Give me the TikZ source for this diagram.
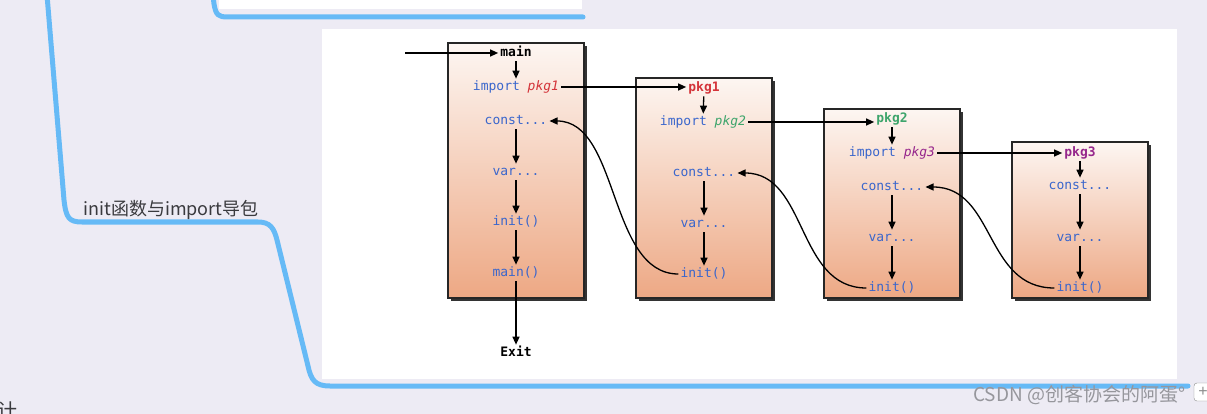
\documentclass[tikz,border=0pt]{standalone}
\usepackage{fontspec}
\setmainfont{Liberation Sans}
\newfontfamily\cjkfont{Noto Sans CJK SC}
\newfontfamily\codefont{DejaVu Sans Mono}
\usetikzlibrary{arrows.meta,shadows}

\definecolor{bgcol}{RGB}{237,235,244}
\definecolor{mapblue}{RGB}{102,186,246}
\definecolor{maptext}{RGB}{58,58,62}
\definecolor{kwblue}{RGB}{58,102,204}
\definecolor{pkgred}{RGB}{212,52,58}
\definecolor{pkggreen}{RGB}{62,165,108}
\definecolor{pkgpurple}{RGB}{150,38,140}
\definecolor{boxtop}{RGB}{253,246,242}
\definecolor{boxbot}{RGB}{237,168,132}
\definecolor{marktext}{RGB}{150,150,156}

\tikzset{
  pkgbox/.style={draw=black!85, line width=1.5pt, top color=boxtop, bottom color=boxbot,
    minimum width=136pt, inner sep=0pt,
    drop shadow={shadow xshift=3pt, shadow yshift=-3pt, fill=black!80, opacity=1}},
  code/.style={font=\codefont\fontsize{13}{15}\selectfont, text=kwblue, inner sep=2pt,
    text height=9.5pt, text depth=2.8pt},
  arr/.style={-{Triangle[length=8pt,width=7pt]}, line width=1.3pt},
  branch/.style={mapblue, line width=5pt, line cap=round},
}

\begin{document}
\begin{tikzpicture}[x=1pt, y=-1pt]

    % Mind map background
    \fill[bgcol] (0,0) rectangle (1207,414);
    \useasboundingbox (0,0) rectangle (1207,414);
    \fill[white] (219,-2) rectangle (582,9);
    \fill[white] (322,29) rectangle (1177,379);

    % Branches
    \draw[branch] (213,-5) -- (214,4) .. controls (216,15) and (218,17) .. (228,17) -- (583,17);
    \draw[branch] (47,-5) -- (64,200) .. controls (66,218) and (69,222) .. (82,222)
        -- (258,222) .. controls (270,222) and (274,228) .. (277,240)
        -- (308,366) .. controls (311,380) and (315,386) .. (330,386) -- (1188,386);

    \node[font=\cjkfont\fontsize{18}{22}\selectfont, text=maptext, anchor=base west]
        (topic) at (80,215) {init函数与import导包};
    \node[font=\cjkfont\fontsize{19}{22}\selectfont, text=marktext, anchor=base west, inner sep=0pt]
        (mark) at (973,401) {CSDN @创客协会的阿蛋°};
    \node[draw=black!45, fill=white, rounded corners=3pt, minimum size=18pt, inner sep=0pt,
        font=\fontsize{16}{16}\selectfont, text=black!45] (plus) at (1203,392) {+};
    \node[font=\cjkfont\fontsize{20}{22}\selectfont, text=maptext, anchor=north west, inner sep=0pt]
        (cut) at (-3,402) {计};

    % Boxes
    \node[pkgbox, minimum height=255pt] (mainbox) at (516,170.5) {};
    \node[pkgbox, minimum height=220pt] (box1) at (704,188) {};
    \node[pkgbox, minimum height=189pt] (box2) at (892,203.5) {};
    \node[pkgbox, minimum height=156pt] (box3) at (1080,220) {};

    % main
    \node[code, text=black, font=\codefont\bfseries\fontsize{13}{15}\selectfont] (mname) at (516,53) {main};
    \node[code] (mimp) at (516,87) {import \textcolor{pkgred}{\itshape pkg1}};
    \node[code] (mconst) at (516,121) {const...};
    \node[code] (mvar) at (516,172) {var...};
    \node[code] (minit) at (516,222) {init()};
    \node[code] (mmain) at (516,273) {main()};
    \node[code, text=black, font=\codefont\bfseries\fontsize{13}{15}\selectfont] (exit) at (516,353) {Exit};

    % pkg1
    \node[code, text=pkgred, font=\codefont\bfseries\fontsize{13}{15}\selectfont] (aname) at (704,88) {pkg1};
    \node[code] (aimp) at (703,122) {import \textcolor{pkggreen}{\itshape pkg2}};
    \node[code] (aconst) at (704,173) {const...};
    \node[code] (avar) at (704,224) {var...};
    \node[code] (ainit) at (704,274) {init()};

    % pkg2
    \node[code, text=pkggreen, font=\codefont\bfseries\fontsize{13}{15}\selectfont] (bname) at (892,119) {pkg2};
    \node[code] (bimp) at (892,153) {import \textcolor{pkgpurple}{\itshape pkg3}};
    \node[code] (bconst) at (892,187) {const...};
    \node[code] (bvar) at (892,238) {var...};
    \node[code] (binit) at (892,288) {init()};

    % pkg3
    \node[code, text=pkgpurple, font=\codefont\bfseries\fontsize{13}{15}\selectfont] (cname) at (1080,153) {pkg3};
    \node[code] (cconst) at (1080,186) {const...};
    \node[code] (cvar) at (1080,238) {var...};
    \node[code] (cinit) at (1080,288) {init()};

    % Order inside each box
    \foreach \a/\b in {mname/mimp, mconst/mvar, mvar/minit, minit/mmain, mmain/exit,
        aname/aimp, aconst/avar, avar/ainit,
        bname/bimp, bconst/bvar, bvar/binit,
        cname/cconst, cconst/cvar, cvar/cinit}
        \draw[arr] (\a) -- (\b);

    % Imports
    \coordinate (entry) at (405,53);
    \draw[arr] (entry) -- (mname.west);
    \draw[arr] (mimp.east) -- (mimp.east -| aname.west);
    \draw[arr] (aimp.east) -- (aimp.east -| bname.west);
    \draw[arr] (bimp.east) -- (bimp.east -| cname.west);

    % Back to the importer
    \draw[arr] (ainit.west) .. controls +(-70,0) and +(70,0) .. (mconst.east);
    \draw[arr] (binit.west) .. controls +(-70,0) and +(70,0) .. (aconst.east);
    \draw[arr] (cinit.west) .. controls +(-70,0) and +(70,0) .. (bconst.east);

\end{tikzpicture}
\end{document}
